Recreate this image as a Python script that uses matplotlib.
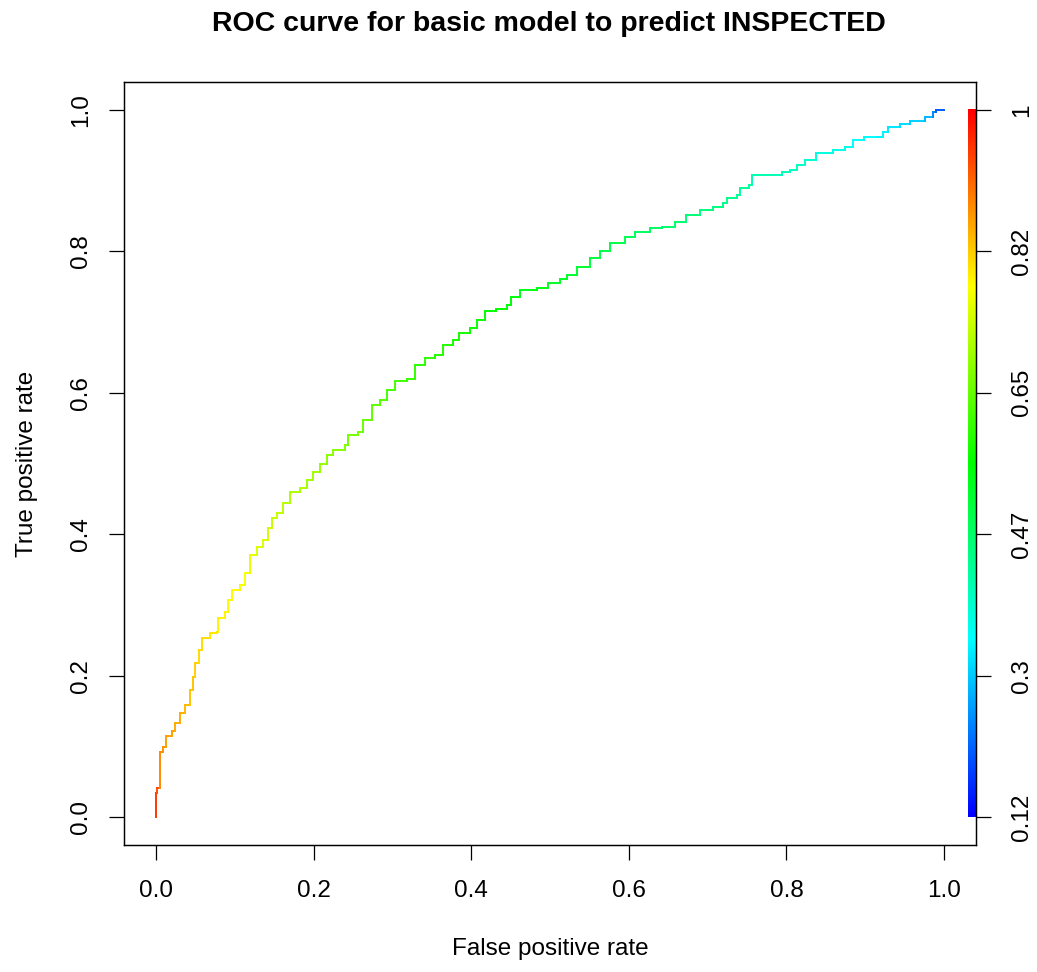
import numpy as np
import matplotlib
matplotlib.use("Agg")
import matplotlib.pyplot as plt
from matplotlib.colors import ListedColormap, Normalize, hsv_to_rgb
from matplotlib.collections import LineCollection

plt.rcParams['font.family'] = ['Liberation Sans', 'DejaVu Sans']

# ROC curve vertices
fpr = [0.0, 0.0, 0.001, 0.005, 0.009, 0.013, 0.020, 0.024, 0.030, 0.037, 0.043,
       0.047, 0.050, 0.054, 0.058, 0.069, 0.077, 0.079, 0.088, 0.092, 0.096,
       0.107, 0.113, 0.119, 0.128, 0.136, 0.142, 0.147, 0.153, 0.161, 0.170,
       0.183, 0.191, 0.199, 0.208, 0.217, 0.225, 0.240, 0.244, 0.256, 0.263,
       0.274, 0.284, 0.293, 0.303, 0.318, 0.329, 0.341, 0.354, 0.364, 0.377,
       0.384, 0.398, 0.407, 0.418, 0.432, 0.445, 0.451, 0.462, 0.483, 0.497,
       0.513, 0.521, 0.534, 0.551, 0.563, 0.576, 0.595, 0.608, 0.627, 0.642,
       0.659, 0.673, 0.690, 0.707, 0.720, 0.724, 0.737, 0.741, 0.752, 0.756,
       0.783, 0.794, 0.805, 0.813, 0.824, 0.838, 0.859, 0.874, 0.885, 0.898,
       0.915, 0.923, 0.929, 0.944, 0.957, 0.976, 0.986, 0.990, 1.0]
tpr = [0.0, 0.034, 0.041, 0.092, 0.099, 0.114, 0.121, 0.133, 0.147, 0.158, 0.180,
       0.198, 0.218, 0.236, 0.253, 0.260, 0.262, 0.281, 0.290, 0.307, 0.321,
       0.328, 0.345, 0.370, 0.382, 0.392, 0.409, 0.423, 0.430, 0.444, 0.460,
       0.465, 0.477, 0.488, 0.500, 0.512, 0.519, 0.526, 0.540, 0.545, 0.562,
       0.583, 0.590, 0.604, 0.616, 0.620, 0.639, 0.649, 0.653, 0.668, 0.675,
       0.684, 0.692, 0.703, 0.715, 0.719, 0.724, 0.736, 0.745, 0.748, 0.755,
       0.761, 0.767, 0.778, 0.790, 0.800, 0.812, 0.821, 0.828, 0.833, 0.835,
       0.842, 0.851, 0.858, 0.863, 0.868, 0.875, 0.880, 0.889, 0.894, 0.908,
       0.908, 0.913, 0.915, 0.922, 0.929, 0.939, 0.944, 0.948, 0.958, 0.962,
       0.962, 0.969, 0.976, 0.980, 0.985, 0.990, 0.997, 1.0, 1.0]
# cutoff at each vertex, estimated from the colour of the curve
cutoff = [1.0, 0.95, 0.93, 0.88, 0.87, 0.86, 0.86, 0.85, 0.85, 0.84, 0.83,
          0.83, 0.82, 0.81, 0.81, 0.80, 0.80, 0.79, 0.79, 0.78, 0.78,
          0.77, 0.77, 0.76, 0.75, 0.75, 0.74, 0.73, 0.73, 0.72, 0.71,
          0.71, 0.70, 0.70, 0.69, 0.68, 0.68, 0.67, 0.66, 0.66, 0.65,
          0.64, 0.63, 0.62, 0.62, 0.61, 0.60, 0.60, 0.59, 0.59, 0.58,
          0.58, 0.57, 0.57, 0.56, 0.56, 0.55, 0.55, 0.54, 0.54, 0.53,
          0.53, 0.52, 0.52, 0.51, 0.50, 0.50, 0.49, 0.48, 0.48, 0.47,
          0.47, 0.46, 0.45, 0.45, 0.44, 0.44, 0.43, 0.43, 0.42, 0.41,
          0.40, 0.40, 0.39, 0.39, 0.38, 0.37, 0.36, 0.36, 0.35, 0.34,
          0.33, 0.33, 0.32, 0.31, 0.30, 0.28, 0.24, 0.20, 0.12]

cut_min, cut_max = 0.12, 1.0
cbar_labels = ['0.12', '0.3', '0.47', '0.65', '0.82', '1']
tick_vals = [0.0, 0.2, 0.4, 0.6, 0.8, 1.0]
tick_labels = ['0.0', '0.2', '0.4', '0.6', '0.8', '1.0']

# R rainbow(256, end=4/6), blue for low cutoffs, red for high
hues = np.linspace(4 / 6, 0, 256)
cmap = ListedColormap(hsv_to_rgb(np.column_stack([hues, np.ones(256), np.ones(256)])))
norm = Normalize(cut_min, cut_max)

W, H = 1037, 972
fig = plt.figure(figsize=(W / 100, H / 100), dpi=100)
ax = fig.add_axes([124 / W, 127 / H, 852 / W, 763 / H])

# staircase segments, horizontal then vertical
segs, cols = [], []
for i in range(len(fpr) - 1):
    x0, y0, x1, y1 = fpr[i], tpr[i], fpr[i + 1], tpr[i + 1]
    segs.append([(x0, y0), (x1, y0)])
    segs.append([(x1, y0), (x1, y1)])
    cols += [cutoff[i], cutoff[i + 1]]
lc = LineCollection(segs, cmap=cmap, norm=norm, linewidth=1.4, capstyle='projecting')
lc.set_array(np.array(cols))
ax.add_collection(lc)

# colour bar inside the right edge of the box
grad = np.linspace(cut_min, cut_max, 256).reshape(-1, 1)
ax.imshow(grad, cmap=cmap, norm=norm, origin='lower', aspect='auto',
          extent=[1.0305, 1.0405, 0.0, 1.0], zorder=1)
ax.set_xlim(-0.0406, 1.0406)
ax.set_ylim(-0.0396, 1.0396)

fs = 17.5
ax.set_xticks(tick_vals)
ax.set_xticklabels(tick_labels)
ax.set_yticks(tick_vals)
ax.set_yticklabels(tick_labels, rotation=90, va='center')
ax.tick_params(axis='both', labelsize=fs, length=11, width=0.9, direction='out')
ax.tick_params(axis='x', pad=14)
ax.tick_params(axis='y', pad=12)

ax2 = ax.twinx()
ax2.set_ylim(ax.get_ylim())
ax2.set_yticks(np.linspace(0, 1, len(cbar_labels)))
ax2.set_yticklabels(cbar_labels, rotation=90, va='center')
ax2.tick_params(axis='y', labelsize=fs, length=11, width=0.9, pad=14)

for a in (ax, ax2):
    for s in a.spines.values():
        s.set_linewidth(0.9)

fig.text(550 / W, 1 - 955 / H, 'False positive rate', ha='center', va='baseline', fontsize=fs)
fig.text(33 / W, 1 - 464 / H, 'True positive rate', ha='center', va='baseline',
         rotation=90, rotation_mode='anchor', fontsize=fs)
fig.text(549 / W, 1 - 31 / H, 'ROC curve for basic model to predict INSPECTED',
         ha='center', va='baseline', fontsize=20.5, fontweight='bold')

fig.savefig('out.png', dpi=100)
